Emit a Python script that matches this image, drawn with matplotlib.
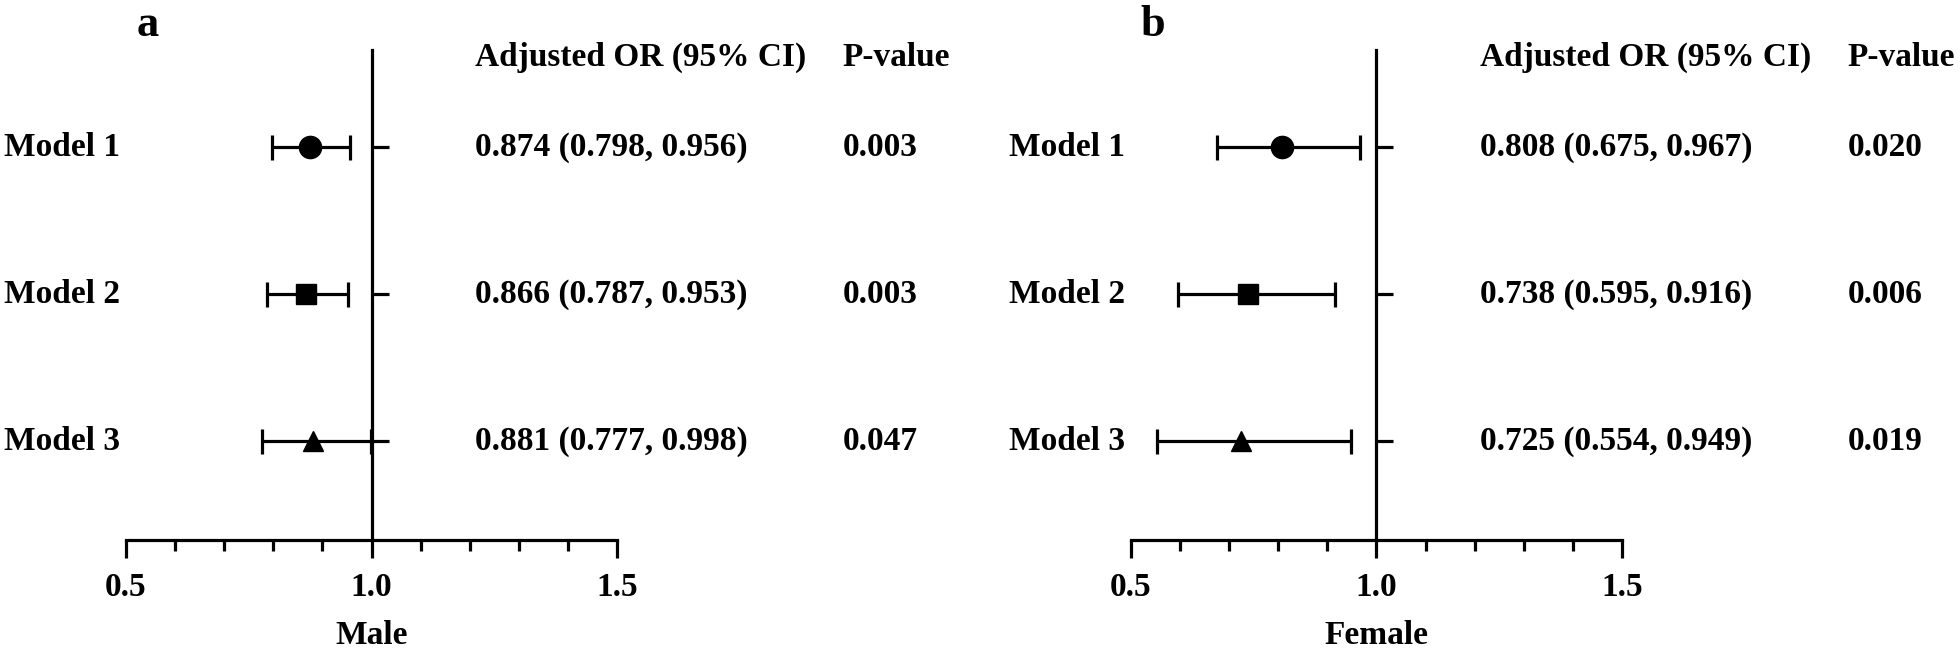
import matplotlib
matplotlib.use('Agg')
import matplotlib.pyplot as plt
from matplotlib.ticker import MultipleLocator
from matplotlib.transforms import blended_transform_factory

plt.rcParams['font.family'] = ['Liberation Serif', 'DejaVu Serif']
plt.rcParams['font.weight'] = 'bold'

# data
models = ['Model 1', 'Model 2', 'Model 3']
markers = ['o', 's', '^']

male_or = [0.874, 0.866, 0.881]
male_lo = [0.798, 0.787, 0.777]
male_hi = [0.956, 0.953, 0.998]
male_p = ['0.003', '0.003', '0.047']

female_or = [0.808, 0.738, 0.725]
female_lo = [0.675, 0.595, 0.554]
female_hi = [0.967, 0.916, 0.949]
female_p = ['0.020', '0.006', '0.019']

FS = 24
LW = 2.3


def draw_panel(ax, letter, title, ors, lo, hi, pvals):
  ys = [3, 2, 1]
  for y, m, o, l, h in zip(ys, markers, ors, lo, hi):
    ax.errorbar([o], [y], xerr=[[o - l], [h - o]], fmt=m, color='black',
                ms=16 if m == 'o' else 15, elinewidth=LW, capsize=9, capthick=LW)

  ax.set_xlim(0.5, 1.5)
  ax.set_ylim(0.33, 3.66)
  ax.spines['top'].set_visible(False)
  ax.spines['right'].set_visible(False)
  ax.spines['left'].set_position(('data', 1.0))
  ax.spines['left'].set_linewidth(LW)
  ax.spines['bottom'].set_linewidth(LW)

  ax.set_xticks([0.5, 1.0, 1.5])
  ax.set_xticklabels(['0.5', '1.0', '1.5'])
  ax.xaxis.set_minor_locator(MultipleLocator(0.1))
  ax.tick_params(axis='x', which='major', length=13, width=LW, labelsize=FS, pad=10)
  ax.tick_params(axis='x', which='minor', length=8, width=LW)
  ax.set_yticks(ys)
  ax.tick_params(axis='y', direction='in', length=12, width=LW, labelleft=False)
  for lab in ax.get_xticklabels():
    lab.set_fontweight('bold')

  ax.set_xlabel(title, fontsize=FS, fontweight='bold', labelpad=12)

  tr = blended_transform_factory(ax.transAxes, ax.transData)
  for y, name, o, l, h, p in zip(ys, models, ors, lo, hi, pvals):
    ax.text(-0.248, y, name, transform=tr, ha='left', va='center',
            fontsize=FS, fontweight='bold')
    ax.text(0.71, y, '{:.3f} ({:.3f}, {:.3f})'.format(o, l, h), transform=tr,
            ha='left', va='center', fontsize=FS, fontweight='bold')
    ax.text(1.46, y, p, transform=tr, ha='left', va='center',
            fontsize=FS, fontweight='bold')

  ax.text(0.71, 0.985, 'Adjusted OR (95% CI)', transform=ax.transAxes,
          ha='left', va='center', fontsize=FS, fontweight='bold')
  ax.text(1.46, 0.985, 'P-value', transform=ax.transAxes,
          ha='left', va='center', fontsize=FS, fontweight='bold')
  ax.text(0.045, 1.052, letter, transform=ax.transAxes, ha='center',
          va='center', fontsize=32, fontweight='bold')


fig = plt.figure(figsize=(19.6, 6.54), dpi=100)
ax_a = fig.add_axes([0.0643, 0.1743, 0.2505, 0.7492])
ax_b = fig.add_axes([0.5770, 0.1743, 0.2505, 0.7492])

draw_panel(ax_a, 'a', 'Male', male_or, male_lo, male_hi, male_p)
draw_panel(ax_b, 'b', 'Female', female_or, female_lo, female_hi, female_p)

fig.savefig('out.png', dpi=100)
